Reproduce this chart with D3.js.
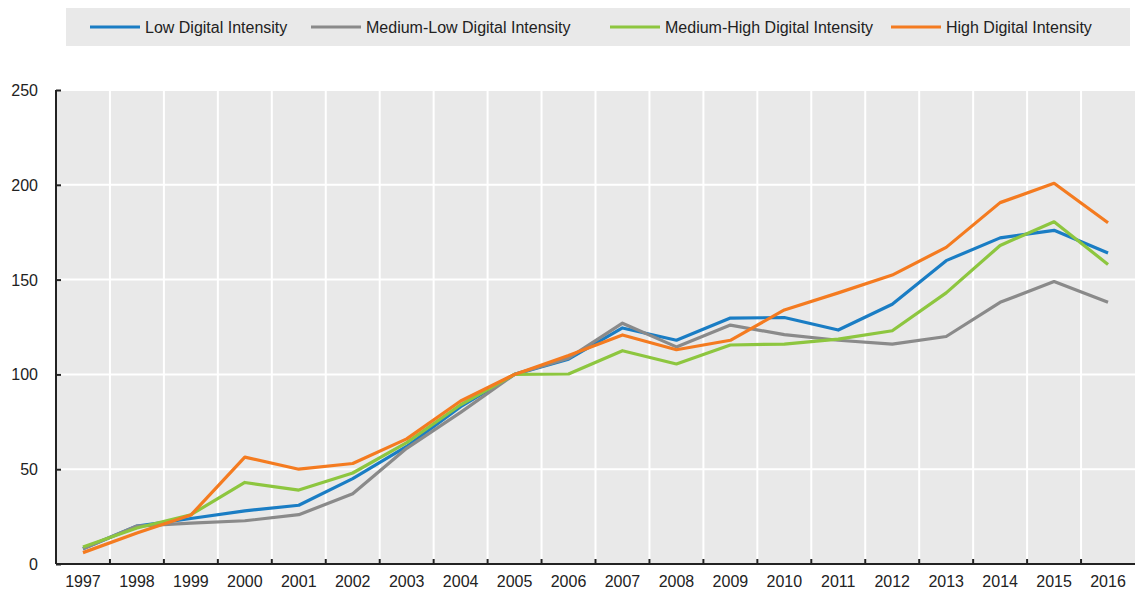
<!DOCTYPE html>
<html>
<head>
<meta charset="utf-8">
<script src="https://cdn.jsdelivr.net/npm/d3@7"></script>
<style>
  body { margin: 0; background: #fff; }
  svg text { font-family: "Liberation Sans", Arial, sans-serif; fill: #222; }
</style>
</head>
<body>
<svg width="1135" height="590"></svg>
<script>
// data
const years = ["1997","1998","1999","2000","2001","2002","2003","2004","2005","2006",
               "2007","2008","2009","2010","2011","2012","2013","2014","2015","2016"];
const lowDigital =     [8, 20, 24, 28, 31, 45, 62, 83, 100, 108, 124.5, 118, 129.7, 130, 123.4, 137, 160, 172, 176, 164];
const mediumLow =      [8, 20, 21.6, 22.8, 26, 37, 61, 80, 100, 108.6, 127, 114.5, 126, 121, 118, 116, 120, 138, 149, 138];
const mediumHigh =     [9, 19, 26, 43, 39, 48, 64, 84, 100, 100.2, 112.5, 105.5, 115.5, 116, 118.6, 123, 143, 168, 180.5, 158];
const highDigital =    [6, 16.4, 25.8, 56.4, 50, 53, 66, 86, 100, 110, 120.8, 113, 118, 134, 143, 152.4, 167, 190.6, 200.8, 180];
const seriesNames = ["Low Digital Intensity", "Medium-Low Digital Intensity",
                     "Medium-High Digital Intensity", "High Digital Intensity"];
const yTicks = [0, 50, 100, 150, 200, 250];

const colors = ["#1a7dc4", "#8a8a8a", "#8dc63f", "#f47b20"];
const series = [lowDigital, mediumLow, mediumHigh, highDigital];

let svg = d3.select("svg");
const plotL = 56, plotR = 1135, plotT = 90, plotB = 564;

let x = d3.scaleBand().domain(years).range([plotL, plotR]);
let y = d3.scaleLinear().domain([0, 250]).range([plotB, plotT]);

// plot background
svg.append("rect")
    .attr("x", plotL).attr("y", plotT)
    .attr("width", plotR - plotL).attr("height", plotB - plotT)
    .attr("fill", "#e9e9e9");

// grid lines
svg.append("g")
    .selectAll("line")
    .data(yTicks.filter(d => d > 0))
    .enter()
    .append("line")
    .attr("x1", plotL).attr("x2", plotR)
    .attr("y1", d => y(d)).attr("y2", d => y(d))
    .attr("stroke", "#fff").attr("stroke-width", 2);

svg.append("g")
    .selectAll("line")
    .data(years.slice(1))
    .enter()
    .append("line")
    .attr("x1", d => x(d)).attr("x2", d => x(d))
    .attr("y1", plotT).attr("y2", plotB)
    .attr("stroke", "#fff").attr("stroke-width", 2);

// lines
let line = d3.line()
    .x((d, i) => x(years[i]) + x.bandwidth() / 2)
    .y(d => y(d));

svg.append("g")
    .selectAll("path")
    .data(series)
    .enter()
    .append("path")
    .attr("d", d => line(d))
    .attr("fill", "none")
    .attr("stroke", (d, i) => colors[i])
    .attr("stroke-width", 3.2)
    .attr("stroke-linejoin", "round");

// axes
let yAxis = svg.append("g")
    .attr("transform", `translate(${plotL},0)`)
    .call(d3.axisRight(y).tickValues(yTicks).tickSize(5).tickFormat(""));
yAxis.select(".domain").attr("stroke", "#222").attr("stroke-width", 2).attr("d", `M0,${plotT}V${plotB}`);
yAxis.selectAll(".tick line").attr("stroke", "#222").attr("stroke-width", 2);

svg.append("g")
    .selectAll("text")
    .data(yTicks)
    .enter()
    .append("text")
    .attr("x", 38)
    .attr("y", d => y(d) + 6)
    .attr("text-anchor", "end")
    .style("font-size", "16px")
    .text(d => d);

let xAxis = svg.append("g")
    .attr("transform", `translate(0,${plotB})`)
    .call(d3.axisTop(x).tickSize(0).tickFormat(""));
xAxis.select(".domain").attr("stroke", "#222").attr("stroke-width", 2).attr("d", `M${plotL},0H${plotR}`);
xAxis.selectAll(".tick").remove();

svg.append("g")
    .selectAll("line")
    .data(years.slice(1))
    .enter()
    .append("line")
    .attr("x1", d => x(d)).attr("x2", d => x(d))
    .attr("y1", plotB - 5).attr("y2", plotB)
    .attr("stroke", "#222").attr("stroke-width", 2);

svg.append("g")
    .selectAll("text")
    .data(years)
    .enter()
    .append("text")
    .attr("x", d => x(d) + x.bandwidth() / 2)
    .attr("y", 587)
    .attr("text-anchor", "middle")
    .style("font-size", "16px")
    .text(d => d);

// legend
svg.append("rect")
    .attr("x", 66).attr("y", 8)
    .attr("width", 1064).attr("height", 38)
    .attr("fill", "#e9e9e9");

const legendX = [90, 311, 610, 891];
let legend = svg.append("g")
    .selectAll("g")
    .data(seriesNames)
    .enter()
    .append("g")
    .attr("transform", (d, i) => `translate(${legendX[i]},27)`);

legend.append("line")
    .attr("x1", 0).attr("x2", 50)
    .attr("stroke", (d, i) => colors[i])
    .attr("stroke-width", 3);

legend.append("text")
    .attr("x", 55).attr("y", 6)
    .style("font-size", "16px")
    .text(d => d);
</script>
</body>
</html>
